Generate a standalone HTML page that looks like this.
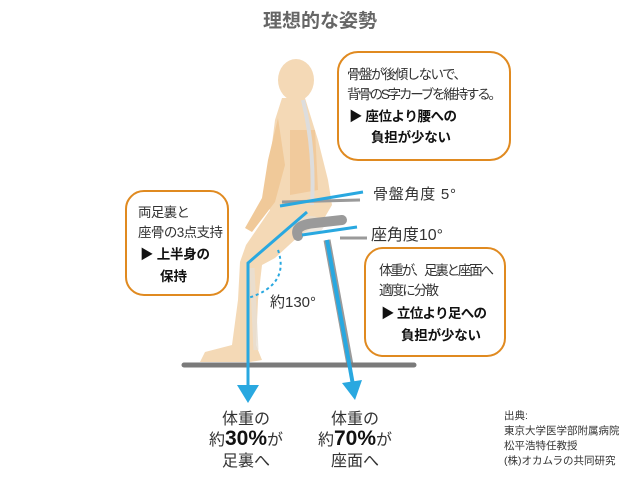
<!DOCTYPE html>
<html><head><meta charset="utf-8"><style>
body{margin:0;background:#fff;}
svg{display:block;font-family:"Liberation Sans","Noto Sans CJK JP",sans-serif;}
</style></head><body>
<svg width="640" height="480" viewBox="0 0 640 480">
<text x="320" y="27" font-size="19" font-weight="bold" fill="#666" text-anchor="middle">理想的な姿勢</text>
<g fill="#f4d9b6">
<ellipse cx="296" cy="80" rx="18" ry="21"/>
<path d="M282 98 L305 98 L318 140 L328 180 L332 205 L322 222 L300 235 L275 258 L262 265 L258 300 L256 345 L262 360 L250 362 L200 362 L205 352 L232 345 L238 300 L240 262 L246 245 L270 210 L262 200 L270 160 L275 120 Z"/>
<path d="M278 118 L268 160 L262 198 L245 228 L252 232 L275 202 L285 165 Z" fill="#f0c999"/>
</g>
<path d="M290 130 L315 130 L318 190 L290 195 Z" fill="#efbf8a" opacity="0.6"/>
<path d="M303 100 Q315 150 312 205" stroke="#ddd" stroke-width="4" fill="none"/>
<ellipse cx="310" cy="225" rx="14" ry="9" fill="#e8e0d4" opacity="0.7"/>
<path d="M252 268 L256 350" stroke="#e8e0d4" stroke-width="5" opacity="0.8"/>
<line x1="327" y1="240" x2="350" y2="365" stroke="#9a9a9a" stroke-width="7"/>
<path d="M298 236 Q293 225 315 223 L342 220" stroke="#9a9a9a" stroke-width="10" fill="none" stroke-linecap="round"/>
<line x1="340" y1="238" x2="367" y2="238" stroke="#9a9a9a" stroke-width="3"/>
<line x1="282" y1="202" x2="360" y2="200" stroke="#9a9a9a" stroke-width="3"/>
<line x1="184" y1="365" x2="414" y2="365" stroke="#7a7a7a" stroke-width="5" stroke-linecap="round"/>
<g stroke="#29a8e0" stroke-width="3" fill="none">
<line x1="280" y1="206" x2="363" y2="192"/>
<line x1="302" y1="235" x2="357" y2="227"/>
<polyline points="307,212 248,263 248,392"/>
<line x1="327" y1="240" x2="353" y2="385" stroke-width="4"/>
<path d="M278 250 Q290 285 248 298" stroke-dasharray="3,3" stroke-width="2"/>
</g>
<polygon points="237,385 259,385 248,403" fill="#29a8e0"/>
<polygon points="342,383 362,380 355,400" fill="#29a8e0"/>
<g font-size="15" fill="#333">
<text x="373" y="199" textLength="83">骨盤角度 5°</text>
<text x="371" y="240" font-size="16" textLength="72">座角度10°</text>
<text x="270" y="307">約130°</text>
</g>
<g fill="#fff" stroke="#e08a20" stroke-width="2">
<rect x="338" y="52" width="172" height="108" rx="20"/>
<rect x="126" y="191" width="102" height="104" rx="18"/>
<rect x="365" y="248" width="140" height="108" rx="18"/>
</g>
<g font-size="13.5" fill="#333">
<text x="347" y="79" textLength="120">骨盤が後傾しないで、</text>
<text x="347" y="99" textLength="155">背骨のS字カーブを維持する。</text>
<text x="349" y="121" font-weight="bold" fill="#111" textLength="108">▶ 座位より腰への</text>
<text x="371" y="142" font-weight="bold" fill="#111" textLength="80">負担が少ない</text>
<text x="138" y="217" textLength="52">両足裏と</text>
<text x="138" y="237" textLength="85">座骨の3点支持</text>
<text x="140" y="259" font-weight="bold" fill="#111" textLength="70">▶ 上半身の</text>
<text x="160" y="281" font-weight="bold" fill="#111">保持</text>
<text x="379" y="275" textLength="115">体重が、足裏と座面へ</text>
<text x="379" y="295" textLength="60">適度に分散</text>
<text x="381" y="318" font-weight="bold" fill="#111" textLength="106">▶ 立位より足への</text>
<text x="401" y="340" font-weight="bold" fill="#111" textLength="80">負担が少ない</text>
</g>
<g font-size="16" fill="#333" text-anchor="middle">
<text x="246" y="424">体重の</text>
<text x="246" y="445">約<tspan font-size="21" font-weight="bold" fill="#111">30%</tspan>が</text>
<text x="246" y="466">足裏へ</text>
<text x="355" y="424">体重の</text>
<text x="355" y="445">約<tspan font-size="21" font-weight="bold" fill="#111">70%</tspan>が</text>
<text x="355" y="466">座面へ</text>
</g>
<g font-size="10.5" fill="#333">
<text x="504" y="419">出典:</text>
<text x="504" y="434">東京大学医学部附属病院</text>
<text x="504" y="449">松平浩特任教授</text>
<text x="504" y="464">(株)オカムラの共同研究</text>
</g>
</svg>
</body></html>
